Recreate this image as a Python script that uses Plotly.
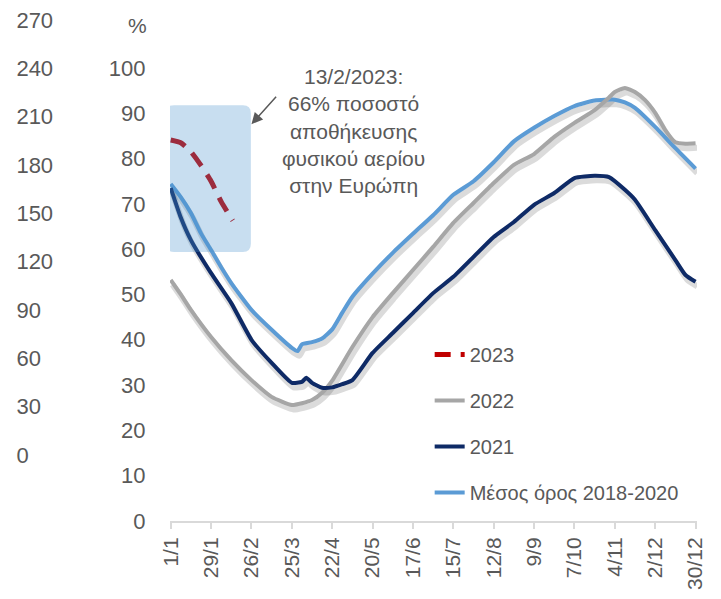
import plotly.graph_objects as go

# x positions are day of year (0 = 1 January)
tick_days = [0, 28, 56, 84, 112, 140, 168, 196, 224, 252, 280, 308, 336, 364]
tick_labels = ["1/1", "29/1", "26/2", "25/3", "22/4", "20/5", "17/6", "15/7",
               "12/8", "9/9", "7/10", "4/11", "2/12", "30/12"]
outer_ticks = [0, 30, 60, 90, 120, 150, 180, 210, 240, 270]

days_2023 = [0, 7, 14, 21, 28, 35, 43]
vals_2023 = [84.1, 83.5, 81.5, 78.5, 75.0, 70.5, 66.3]

days_2022 = [0, 7, 14, 28, 42, 56, 70, 84, 91, 98, 105, 112, 126, 140, 154, 168, 182, 196,
             210, 224, 238, 252, 266, 280, 294, 304, 308, 315, 322, 329, 336, 343, 350, 357, 364]
vals_2022 = [53.2, 50.0, 46.6, 40.6, 35.5, 31.1, 27.4, 25.6, 26.0, 26.7, 28.3, 31.0, 38.4, 45.0,
             50.3, 55.4, 60.5, 65.8, 70.2, 74.6, 78.6, 81.0, 84.8, 87.9, 90.7, 93.5, 94.7, 95.6,
             94.7, 92.9, 90.1, 86.3, 83.6, 83.3, 83.4]

days_2021 = [0, 7, 14, 28, 42, 56, 70, 84, 91, 94, 98, 105, 112, 119, 126, 140, 154, 168, 182,
             196, 210, 224, 238, 252, 266, 280, 294, 304, 315, 322, 336, 350, 357, 364]
vals_2021 = [73.5, 67.0, 62.0, 54.7, 48.1, 40.0, 34.9, 30.5, 30.7, 31.6, 30.5, 29.4, 29.5, 30.2,
             31.1, 37.1, 41.5, 45.9, 50.3, 53.9, 58.3, 62.7, 66.0, 69.8, 72.4, 75.7, 76.2, 75.9,
             73.1, 70.9, 64.2, 57.6, 54.3, 52.8]

days_avg = [0, 7, 14, 21, 28, 35, 42, 56, 70, 84, 88, 91, 98, 105, 112, 119, 126, 140, 154, 168,
            182, 196, 210, 224, 238, 252, 266, 280, 294, 308, 315, 322, 336, 350, 364]
vals_avg = [74.4, 71.5, 68.0, 63.5, 59.8, 56.0, 52.5, 46.6, 42.2, 38.2, 37.5, 39.0, 39.5, 40.3,
            42.3, 46.0, 49.5, 54.6, 59.2, 63.4, 67.5, 72.0, 75.0, 79.2, 83.8, 86.8, 89.4, 91.6,
            92.8, 93.0, 92.4, 91.2, 87.0, 82.3, 77.8]

FONT = "Liberation Sans, Arial, sans-serif"
GREY_TXT = "#595959"

series = [
    ("Μέσος όρος 2018-2020", days_avg, vals_avg, "#5B9BD5", None, 4),
    ("2022", days_2022, vals_2022, "#A6A6A6", None, 2),
    ("2021", days_2021, vals_2021, "#0E2A66", None, 3),
    ("2023", days_2023, vals_2023, "#C00000", "16px,10px", 1),
]

fig = go.Figure()

# soft drop shadows under the solid lines
for name, d, v, color, dash, rank in series:
    if dash:
        continue
    fig.add_trace(go.Scatter(
        x=[i + 1.2 for i in d], y=[j - 1.0 for j in v], mode="lines",
        line=dict(color="rgba(0,0,0,0.14)", width=6, shape="spline", smoothing=0.5),
        showlegend=False, hoverinfo="skip"))

for name, d, v, color, dash, rank in series:
    fig.add_trace(go.Scatter(
        x=d, y=v, mode="lines", name=name, legendgroup=name, legendrank=rank,
        line=dict(color=color, width=4 if not dash else 5, dash=dash,
                  shape="spline", smoothing=0.5)))

# invisible trace so the outer left scale is drawn
fig.add_trace(go.Scatter(x=[0] * len(outer_ticks), y=outer_ticks, yaxis="y2", mode="markers",
                         marker=dict(opacity=0), showlegend=False, hoverinfo="skip"))

# rounded highlight box over the start of the year
x0, x1, y0, y1 = -3.3, 55.6, 59.4, 91.8
rx, ry = 5.5, 1.8
box_path = (f"M {x0+rx},{y0} L {x1-rx},{y0} Q {x1},{y0} {x1},{y0+ry} "
            f"L {x1},{y1-ry} Q {x1},{y1} {x1-rx},{y1} L {x0+rx},{y1} "
            f"Q {x0},{y1} {x0},{y1-ry} L {x0},{y0+ry} Q {x0},{y0} {x0+rx},{y0} Z")
fig.add_shape(type="path", path=box_path, xref="x", yref="y", layer="above",
              fillcolor="rgba(72,145,205,0.3)", line=dict(width=0))

fig.add_annotation(
    x=126.5, y=86.1, xref="x", yref="y", showarrow=False,
    text="13/2/2023:<br>66% ποσοστό<br>αποθήκευσης<br>φυσικού αερίου<br>στην Ευρώπη",
    font=dict(family=FONT, size=21, color=GREY_TXT), align="center")
fig.add_annotation(
    x=56.0, y=87.6, xref="x", yref="y", text="", showarrow=True,
    ax=26, ay=-29, arrowhead=2, arrowsize=1.5, arrowwidth=1.5, arrowcolor=GREY_TXT)
fig.add_annotation(
    x=0.171, y=109.3, xref="paper", yref="y", text="%", showarrow=False,
    font=dict(family=FONT, size=21, color=GREY_TXT))

fig.update_layout(
    width=721, height=599,
    margin=dict(l=0, r=32, t=2, b=86, autoexpand=False),
    paper_bgcolor="white", plot_bgcolor="white",
    font=dict(family=FONT, color=GREY_TXT),
    xaxis=dict(
        domain=[0.2351, 1], range=[-0.5, 365], automargin=False,
        tickvals=tick_days, ticktext=tick_labels, tickangle=-90,
        tickfont=dict(size=21, color=GREY_TXT),
        showgrid=False, zeroline=False,
        showline=True, linecolor="#D9D9D9", linewidth=2,
        ticks="outside", ticklen=6, tickcolor="#D9D9D9", tickwidth=2),
    yaxis=dict(
        range=[0, 112.8], tickvals=list(range(0, 101, 10)), automargin=False,
        tickfont=dict(size=22, color=GREY_TXT),
        showgrid=False, zeroline=False, showline=False,
        ticks="outside", ticklen=19, tickcolor="rgba(0,0,0,0)"),
    yaxis2=dict(
        overlaying="y", anchor="free", position=0, side="right", automargin=False,
        range=[-41.0, 276.2], tickvals=outer_ticks, ticklabeloverflow="allow",
        tickfont=dict(size=22, color=GREY_TXT),
        showgrid=False, zeroline=False, showline=False,
        ticks="outside", ticklen=3, tickcolor="rgba(0,0,0,0)"),
    legend=dict(
        x=0.612, y=0.364, xanchor="left", yanchor="top",
        font=dict(family=FONT, size=20, color=GREY_TXT),
        bgcolor="rgba(0,0,0,0)", tracegroupgap=17),
    showlegend=True,
)

fig.write_html("out.html")
